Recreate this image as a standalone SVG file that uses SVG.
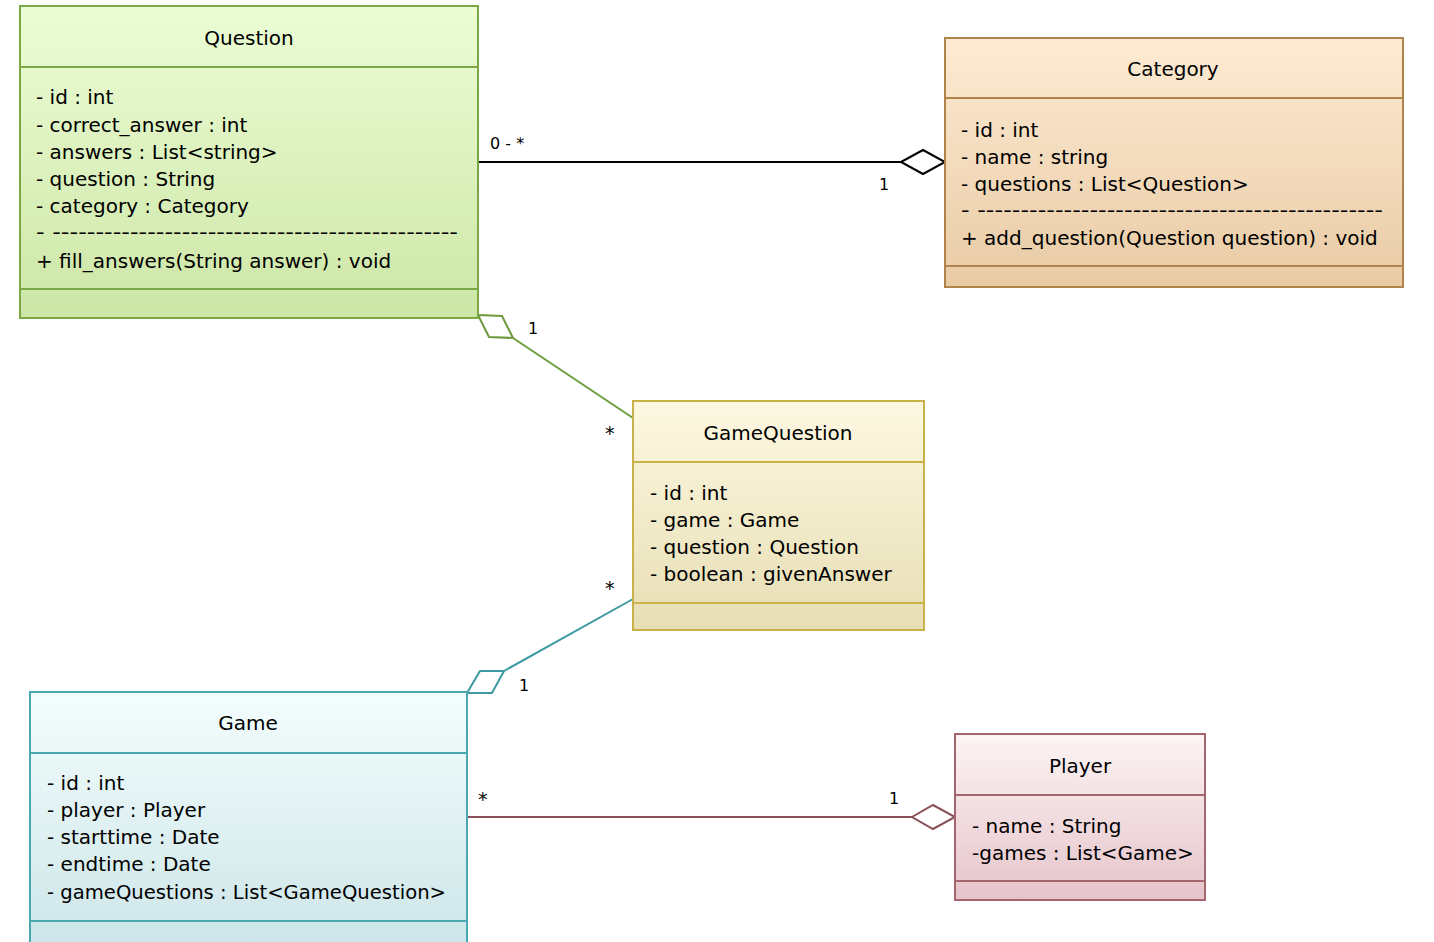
<svg xmlns="http://www.w3.org/2000/svg" width="1434" height="942" viewBox="0 0 1434 942">
<defs>
<linearGradient id="gQ" x1="0" y1="0" x2="0" y2="1"><stop offset="0" stop-color="#ecfdd5"/><stop offset="1" stop-color="#cde6a7"/></linearGradient>
<linearGradient id="gC" x1="0" y1="0" x2="0" y2="1"><stop offset="0" stop-color="#fdebd3"/><stop offset="1" stop-color="#e9cba5"/></linearGradient>
<linearGradient id="gGQ" x1="0" y1="0" x2="0" y2="1"><stop offset="0" stop-color="#fdf8e1"/><stop offset="1" stop-color="#e7deb4"/></linearGradient>
<linearGradient id="gG" x1="0" y1="0" x2="0" y2="1"><stop offset="0" stop-color="#f4fdfd"/><stop offset="1" stop-color="#cce5e8"/></linearGradient>
<linearGradient id="gP" x1="0" y1="0" x2="0" y2="1"><stop offset="0" stop-color="#fdf4f4"/><stop offset="1" stop-color="#e5c4ca"/></linearGradient>
</defs>
<style>
text{font-family:"DejaVu Sans","Liberation Sans",sans-serif;fill:#000}
.t{font-size:20px;text-anchor:middle}
.a{font-size:20px}
.l{font-size:16px}
.s{font-size:19px}
.box{stroke-width:2}
</style>
<rect width="1434" height="942" fill="#fff"/>
<g id="connectors" fill="none" stroke-width="2">
<line x1="478" y1="162" x2="901" y2="162" stroke="#000"/>
<polygon points="901,162 923,150 945,162 923,174" fill="#fff" stroke="#000"/>
<line x1="513" y1="338" x2="633" y2="418" stroke="#6e9a3e"/>
<polygon points="478,315 502,316 513,338 489,337" fill="#fff" stroke="#6e9a3e"/>
<line x1="504" y1="671" x2="633" y2="599" stroke="#3d9aa2"/>
<polygon points="504,671 480,671 467,693 492,693" fill="#fff" stroke="#3d9aa2"/>
<line x1="467" y1="817" x2="912" y2="817" stroke="#8a5058"/>
<polygon points="912,817 933,805 955,817 933,829" fill="#fff" stroke="#8a5058"/>
<text class="l" x="490" y="149">0 - *</text>
<text class="l" x="879" y="190">1</text>
<text class="l" x="528" y="334">1</text>
<text class="s" x="605" y="440">*</text>
<text class="s" x="605" y="595">*</text>
<text class="l" x="519" y="691">1</text>
<text class="s" x="478" y="806">*</text>
<text class="l" x="889" y="804">1</text>
</g>
<g id="Question">
<rect class="box" x="20" y="6" width="458" height="312" fill="url(#gQ)" stroke="#7aa844"/>
<line x1="20" y1="67" x2="478" y2="67" stroke="#7aa844" stroke-width="2"/>
<line x1="20" y1="289" x2="478" y2="289" stroke="#7aa844" stroke-width="2"/>
<text class="t" x="249" y="45">Question</text>
<text class="a" x="36" y="104">- id : int</text>
<text class="a" x="36" y="132">- correct_answer : int</text>
<text class="a" x="36" y="159">- answers : List&lt;string&gt;</text>
<text class="a" x="36" y="186">- question : String</text>
<text class="a" x="36" y="213">- category : Category</text>
<text class="a" x="36" y="239" textLength="422" lengthAdjust="spacingAndGlyphs">- -----------------------------------------------</text>
<text class="a" x="36" y="268">+ fill_answers(String answer) : void</text>
</g>
<g id="Category">
<rect class="box" x="945" y="38" width="458" height="249" fill="url(#gC)" stroke="#b0834a"/>
<line x1="945" y1="98" x2="1403" y2="98" stroke="#b0834a" stroke-width="2"/>
<line x1="945" y1="266" x2="1403" y2="266" stroke="#b0834a" stroke-width="2"/>
<text class="t" x="1173" y="76">Category</text>
<text class="a" x="961" y="137">- id : int</text>
<text class="a" x="961" y="164">- name : string</text>
<text class="a" x="961" y="191">- questions : List&lt;Question&gt;</text>
<text class="a" x="961" y="217" textLength="422" lengthAdjust="spacingAndGlyphs">- -----------------------------------------------</text>
<text class="a" x="961" y="245">+ add_question(Question question) : void</text>
</g>
<g id="GameQuestion">
<rect class="box" x="633" y="401" width="291" height="229" fill="url(#gGQ)" stroke="#c9b24a"/>
<line x1="633" y1="462" x2="924" y2="462" stroke="#c9b24a" stroke-width="2"/>
<line x1="633" y1="603" x2="924" y2="603" stroke="#c9b24a" stroke-width="2"/>
<text class="t" x="778" y="440">GameQuestion</text>
<text class="a" x="650" y="500">- id : int</text>
<text class="a" x="650" y="527">- game : Game</text>
<text class="a" x="650" y="554">- question : Question</text>
<text class="a" x="650" y="581">- boolean : givenAnswer</text>
</g>
<g id="Game">
<rect class="box" x="30" y="692" width="437" height="260" fill="url(#gG)" stroke="#4aa9b0"/>
<line x1="30" y1="753" x2="467" y2="753" stroke="#4aa9b0" stroke-width="2"/>
<line x1="30" y1="921" x2="467" y2="921" stroke="#4aa9b0" stroke-width="2"/>
<text class="t" x="248" y="730">Game</text>
<text class="a" x="47" y="790">- id : int</text>
<text class="a" x="47" y="817">- player : Player</text>
<text class="a" x="47" y="844">- starttime : Date</text>
<text class="a" x="47" y="871">- endtime : Date</text>
<text class="a" x="47" y="899" textLength="399" lengthAdjust="spacingAndGlyphs">- gameQuestions : List&lt;GameQuestion&gt;</text>
</g>
<g id="Player">
<rect class="box" x="955" y="734" width="250" height="166" fill="url(#gP)" stroke="#a5656e"/>
<line x1="955" y1="795" x2="1205" y2="795" stroke="#a5656e" stroke-width="2"/>
<line x1="955" y1="881" x2="1205" y2="881" stroke="#a5656e" stroke-width="2"/>
<text class="t" x="1080" y="773">Player</text>
<text class="a" x="972" y="833">- name : String</text>
<text class="a" x="972" y="860">-games : List&lt;Game&gt;</text>
</g>
</svg>
